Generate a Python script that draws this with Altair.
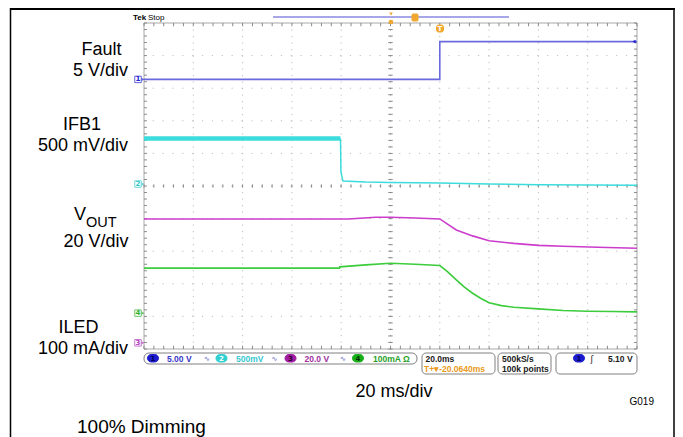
import altair as alt
import pandas as pd
import numpy as np

# ---------------- data: time in ms (20 ms/div), amplitude in screen divisions (0 = bottom) -------------
fault_t = [-100, 20, 20, 100]
fault_v = [8.27, 8.27, 9.43, 9.43]

ifb_band_t = [-100, -20.3]
ifb_band_v = [6.46, 6.46]
ifb_t = [-20.3, -20.1, -19.3, -10, 0, 20, 40, 60, 80, 100]
ifb_v = [6.46, 5.43, 5.15, 5.12, 5.11, 5.09, 5.06, 5.04, 5.03, 5.02]

vout_t = [-100, -17, -6, 0, 10, 20, 26.7, 33.3, 40, 50, 60, 70, 84, 100]
vout_v = [3.99, 3.99, 4.04, 4.04, 4.02, 3.99, 3.65, 3.47, 3.32, 3.24, 3.18, 3.15, 3.12, 3.09]

iled_t = [-100, -20.7, -20.6, -10, 0, 10, 20, 23, 26.7, 30, 33.3, 36.7, 40, 45, 50, 60, 70, 80, 90, 100]
iled_v = [2.48, 2.48, 2.52, 2.58, 2.63, 2.60, 2.56, 2.38, 2.12, 1.90, 1.71, 1.55, 1.42, 1.33, 1.28, 1.23, 1.18, 1.16, 1.15, 1.14]

marker_ch = ["1", "2", "4", "3"]
marker_v = [8.27, 5.06, 1.10, 0.19]

grid_t = [-80, -60, -40, -20, 20, 40, 60, 80]
grid_v = [1, 2, 3, 4, 6, 7, 8, 9]

# ---------------- layout constants ----------------
OX, OY = 144, 23          # page position of graticule origin
W, H = 493, 326
SVG_W, SVG_H = 667, 429   # must fit inside the 683px page minus its 8px margins

C_FAULT = "#6a6ade"
C_IFB = "#3cdcdc"
C_VOUT = "#cc3ccc"
C_ILED = "#3ccc3c"
C_GRID = "#bdbdbd"
C_FRAME = "#a8a8a8"

xs = alt.Scale(domain=[-100, 100], nice=False, zero=False)
ys = alt.Scale(domain=[0, 10], nice=False, zero=False)
X = lambda f="t": alt.X(f"{f}:Q", scale=xs, axis=None)
Y = lambda f="v": alt.Y(f"{f}:Q", scale=ys, axis=None)

one = pd.DataFrame({"k": [0]})


def label(text, px, py, size=18, align="center", color="black", font="Liberation Sans", weight="normal"):
    return alt.Chart(one).mark_text(text=text, align=align, baseline="alphabetic", fontSize=size,
                                    font=font, color=color, fontWeight=weight).encode(
        x=alt.value(px - OX), y=alt.value(py - OY))


def box(x1, x2, y1, y2, fill="white", stroke="#808080", radius=4, sw=1.0):
    return alt.Chart(one).mark_rect(fill=fill, stroke=stroke, strokeWidth=sw, cornerRadius=radius).encode(
        x=alt.value(x1 - OX), x2=alt.value(x2 - OX), y=alt.value(y1 - OY), y2=alt.value(y2 - OY))


def hline(x1, x2, y, color="black", sw=1.0):
    return alt.Chart(one).mark_rule(color=color, strokeWidth=sw).encode(
        x=alt.value(x1 - OX), x2=alt.value(x2 - OX), y=alt.value(y - OY))


def vline(x, y1, y2, color="black", sw=1.0):
    return alt.Chart(one).mark_rule(color=color, strokeWidth=sw).encode(
        x=alt.value(x - OX), y=alt.value(y1 - OY), y2=alt.value(y2 - OY))


layers = []

# ---------------- graticule ----------------
layers.append(alt.Chart(pd.DataFrame({"t": grid_t})).mark_rule(color=C_GRID, strokeDash=[1.2, 5.3], strokeWidth=1).encode(x=X()))
layers.append(alt.Chart(pd.DataFrame({"v": grid_v})).mark_rule(color=C_GRID, strokeDash=[1.2, 8.66], strokeWidth=1).encode(y=Y()))
layers.append(alt.Chart(pd.DataFrame({"t": [0]})).mark_rule(color="#a0a0a0", strokeDash=[1.2, 5.3], strokeWidth=1).encode(x=X()))
layers.append(alt.Chart(pd.DataFrame({"v": [5]})).mark_rule(color="#a0a0a0", strokeDash=[1.2, 8.66], strokeWidth=1).encode(y=Y()))
layers.append(alt.Chart(pd.DataFrame({"t": [-100, 100]})).mark_rule(color=C_FRAME, strokeWidth=1).encode(x=X()))
layers.append(alt.Chart(pd.DataFrame({"v": [0, 10]})).mark_rule(color=C_FRAME, strokeWidth=1).encode(y=Y()))

tick_v = np.round(np.arange(0, 10.001, 0.2), 3)
tick_t = np.round(np.arange(-100, 100.001, 4), 3)
hv = []
for c0, c1 in [(-100, -98.8), (-0.9, 0.9), (98.8, 100)]:
    for v in tick_v:
        hv.append({"t": c0, "t2": c1, "v": v})
vt = []
for c0, c1 in [(9.9, 10), (4.95, 5.05), (0, 0.1)]:
    for t in tick_t:
        vt.append({"t": t, "v": c0, "v2": c1})
layers.append(alt.Chart(pd.DataFrame(hv)).mark_rule(color="#8a8a8a", strokeWidth=1).encode(x=X(), x2="t2:Q", y=Y()))
layers.append(alt.Chart(pd.DataFrame(vt)).mark_rule(color="#8a8a8a", strokeWidth=1).encode(x=X(), y=Y(), y2="v2:Q"))

# ---------------- traces ----------------
layers.append(alt.Chart(pd.DataFrame({"t": fault_t, "v": fault_v})).mark_line(color=C_FAULT, strokeWidth=1.6).encode(x=X(), y=Y(), order="o:Q").transform_window(o="row_number()"))
layers.append(alt.Chart(pd.DataFrame({"t": ifb_band_t, "v": ifb_band_v})).mark_line(color=C_IFB, strokeWidth=4.5).encode(x=X(), y=Y()))
layers.append(alt.Chart(pd.DataFrame({"t": ifb_t, "v": ifb_v})).mark_line(color=C_IFB, strokeWidth=1.5).encode(x=X(), y=Y(), order="o:Q").transform_window(o="row_number()"))
layers.append(alt.Chart(pd.DataFrame({"t": vout_t, "v": vout_v})).mark_line(color=C_VOUT, strokeWidth=1.6).encode(x=X(), y=Y()))
layers.append(alt.Chart(pd.DataFrame({"t": iled_t, "v": iled_v})).mark_line(color=C_ILED, strokeWidth=1.6).encode(x=X(), y=Y(), order="o:Q").transform_window(o="row_number()"))

# channel ground markers on the left edge
mk = pd.DataFrame({"ch": marker_ch, "v": marker_v})
mcol = alt.Scale(domain=marker_ch, range=["#2020d0", "#30c8c8", "#30b030", "#b040c0"])
layers.append(alt.Chart(mk).mark_square(size=42, filled=False, strokeWidth=1).encode(
    x=alt.value(-6), y=Y(), color=alt.Color("ch:N", scale=mcol, legend=None)))
layers.append(alt.Chart(mk).mark_text(fontSize=7, font="DejaVu Sans", fontWeight="bold").encode(
    x=alt.value(-6), y=Y(), text="ch:N", color=alt.Color("ch:N", scale=mcol, legend=None)))
layers.append(alt.Chart(mk).mark_point(shape="triangle-right", size=10, filled=True).encode(
    x=alt.value(-1), y=Y(), color=alt.Color("ch:N", scale=mcol, legend=None)))

# fault level arrow at right edge
layers.append(alt.Chart(pd.DataFrame({"v": [9.43]})).mark_point(shape="triangle-left", size=14, filled=True, color="#2020d0", opacity=1).encode(
    x=alt.value(634 - OX), y=Y()))

# ---------------- top status bar ----------------
layers.append(label("Tek", 133, 20, size=8, align="left", weight="bold", font="Liberation Sans"))
layers.append(label("Stop", 148, 20, size=8, align="left", font="Liberation Sans"))
layers.append(hline(273, 509, 17, color="#8a8ae0", sw=1.5))
layers.append(box(412, 418, 14, 21, fill="#f0a830", stroke="#f0a830", radius=1))
layers.append(box(436.5, 443.5, 25, 32, fill="#f0a830", stroke="#f0a830", radius=2))
layers.append(label("T", 440, 31, size=7, color="white", weight="bold", font="DejaVu Sans"))
layers.append(alt.Chart(one).mark_point(shape="triangle-down", size=14, filled=True, color="#f0a830", opacity=1).encode(x=alt.value(391 - OX), y=alt.value(14 - OY)))
layers.append(alt.Chart(one).mark_point(shape="circle", size=22, filled=True, color="#f0a830", opacity=1).encode(x=alt.value(391 - OX), y=alt.value(22 - OY)))

# ---------------- bottom readout ----------------
RF = "Liberation Sans"
layers.append(box(144, 417, 353, 364, radius=5))
layers.append(box(422, 495, 353, 374, radius=4))
layers.append(box(498, 551, 353, 374, radius=4))
layers.append(box(556, 637, 353, 374, radius=4))
for cx, col, num, tcol in [(153, "#1c1ccc", "1", "#000060"), (221.5, "#30d0d0", "2", "#ffffff"),
                           (290.5, "#a01ca0", "3", "#300030"), (358, "#18b018", "4", "#003000"),
                           (579, "#1c1ccc", "1", "#000060")]:
    layers.append(box(cx - 5.5, cx + 5.5, 354.5, 362, fill=col, stroke=col, radius=4))
    layers.append(label(num, cx, 361, size=7, color=tcol, weight="bold", font="DejaVu Sans"))
layers.append(label("5.00 V", 167, 361.5, size=8.5, align="left", color="#3838c8", font=RF, weight="bold"))
layers.append(label("500mV", 236, 361.5, size=8.5, align="left", color="#38c8d0", font=RF, weight="bold"))
layers.append(label("20.0 V", 304.5, 361.5, size=8.5, align="left", color="#a030a0", font=RF, weight="bold"))
layers.append(label("100mA Ω", 373, 361.5, size=8.5, align="left", color="#28a028", font=RF, weight="bold"))
for sx in [207, 274.5, 343]:
    layers.append(label("∿", sx, 361, size=7, color="#5050c0", font="DejaVu Sans"))
layers.append(label("20.0ms", 425.5, 362, size=8.5, align="left", color="#202020", font=RF, weight="bold"))
layers.append(label("T+▾-20.0640ms", 424, 371.5, size=8.5, align="left", color="#e89a20", font=RF, weight="bold"))
layers.append(label("500kS/s", 502, 362, size=8.5, align="left", color="#202020", font=RF, weight="bold"))
layers.append(label("100k points", 502, 371.5, size=8.5, align="left", color="#202020", font=RF, weight="bold"))
layers.append(label("ʃ", 592, 361.5, size=8.5, color="#202020", font="DejaVu Sans"))
layers.append(label("5.10 V", 608, 361.5, size=8.5, align="left", color="#202020", font=RF, weight="bold"))

# ---------------- outer annotations ----------------
layers.append(label("Fault", 101.5, 55))
layers.append(label("5 V/div", 100.5, 75.5))
layers.append(label("IFB1", 82, 130))
layers.append(label("500 mV/div", 83, 151))
layers.append(label("V", 74, 220, align="left"))
layers.append(label("OUT", 86, 227, size=14.5, align="left"))
layers.append(label("20 V/div", 96, 247))
layers.append(label("ILED", 78.5, 333))
layers.append(label("100 mA/div", 83, 353.5))
layers.append(label("20 ms/div", 394, 397))
layers.append(label("G019", 654, 405, size=10, align="right"))
layers.append(label("100% Dimming", 77, 433, size=19, align="left"))

# outer frame of the figure
layers.append(hline(10, 675, 9, color="black", sw=2))
layers.append(vline(10.5, 8, 437, color="black", sw=1.5))
layers.append(vline(674, 8, 437, color="black", sw=1.5))

chart = alt.layer(*layers).properties(
    width=W, height=H,
    padding={"left": OX - 8, "top": OY - 8, "right": SVG_W - (OX - 8) - W, "bottom": SVG_H - (OY - 8) - H},
    autosize=alt.AutoSizeParams(type="none"),
    background="white",
).configure_view(stroke=None)

chart.save("out.html", embed_options={"renderer": "svg", "actions": False})
